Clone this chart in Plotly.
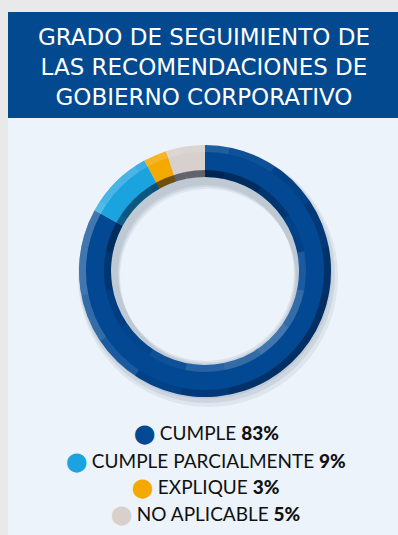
import plotly.graph_objects as go

# Data
categories = ["CUMPLE", "CUMPLE PARCIALMENTE", "EXPLIQUE", "NO APLICABLE"]
values = [83, 9, 3, 5]
colors = ["#024893", "#1ba3e0", "#f4a900", "#d7d0cc"]
title_lines = ["GRADO DE SEGUIMIENTO DE", "LAS RECOMENDACIONES DE", "GOBIERNO CORPORATIVO"]

W, H = 398, 535
CX, CY = 205, 271          # ring centre (px)
R_OUT, R_IN = 126, 94      # ring radii (px)


def py(px):
    """Convert a pixel offset from the top into paper y."""
    return 1 - px / H


def px_x(px):
    return px / W


def ring_domain(r, dx=0, dy=0):
    return dict(x=[px_x(CX + dx - r), px_x(CX + dx + r)],
                y=[py(CY + dy + r), py(CY + dy - r)])


# Bevel shading: 16 sectors clockwise from 12 o'clock (negative = dark, positive = light)
inner_bevel = [-0.55, -0.45, -0.3, -0.1, 0.1, 0.2, 0.25, 0.2,
               0.15, 0.05, -0.05, -0.15, -0.3, -0.45, -0.5, -0.55]
outer_bevel = [0.12, 0.05, -0.1, -0.25, -0.35, -0.4, -0.4, -0.35,
               -0.25, -0.1, 0.1, 0.2, 0.25, 0.25, 0.2, 0.15]


def shade(a):
    return f"rgba(255,255,255,{a:.2f})" if a > 0 else f"rgba(0,10,30,{-a:.2f})"


fig = go.Figure()

# Soft drop shadows behind the donut
for off, alpha, grow in [(6, 0.10, 4), (4, 0.12, 2), (2, 0.12, 0)]:
    r = R_OUT + grow
    fig.add_trace(go.Pie(
        values=[1], marker=dict(colors=[f"rgba(90,105,130,{alpha})"], line=dict(width=0)),
        hole=(R_IN - 6) / r, sort=False, textinfo="none", hoverinfo="skip", showlegend=False,
        domain=ring_domain(r, dx=off * 0.5, dy=off),
    ))

# Main donut
fig.add_trace(go.Pie(
    labels=categories, values=values, marker=dict(colors=colors, line=dict(width=0)),
    hole=R_IN / R_OUT, sort=False, direction="clockwise", rotation=0,
    textinfo="none", showlegend=False,
    domain=ring_domain(R_OUT),
))

# Inner and outer bevel bands
for r_o, r_i, bevel in [(R_IN + 7, R_IN, inner_bevel), (R_OUT, R_OUT - 7, outer_bevel)]:
    fig.add_trace(go.Pie(
        values=[1] * len(bevel),
        marker=dict(colors=[shade(a) for a in bevel], line=dict(width=0)),
        hole=r_i / r_o, sort=False, direction="clockwise", rotation=-360 / 32,
        textinfo="none", hoverinfo="skip", showlegend=False,
        domain=ring_domain(r_o),
    ))

shapes = [
    # light panel
    dict(type="rect", xref="paper", yref="paper", x0=px_x(8), x1=1, y0=0, y1=py(12),
         fillcolor="#ecf3fa", line=dict(width=0), layer="below"),
    # header band
    dict(type="rect", xref="paper", yref="paper", x0=px_x(8), x1=1, y0=py(118), y1=py(12),
         fillcolor="#03498f", line=dict(width=0), layer="below"),
]

annotations = [dict(
    text="<br>".join(title_lines), x=px_x(204), y=py(67), xref="paper", yref="paper",
    showarrow=False, xanchor="center", yanchor="middle", align="center",
    font=dict(family="DejaVu Sans", size=23, color="white"),
)]

legend_y = [433, 461, 487, 514]
for cat, val, col, yy in zip(categories, values, colors, legend_y):
    txt = (f"<span style='color:{col}'>⬤</span> "
           f"{cat} <span style='font-weight:900'>{val}%</span>")
    annotations.append(dict(
        text=txt, x=px_x(206), y=py(yy), xref="paper", yref="paper",
        showarrow=False, xanchor="center", yanchor="middle",
        font=dict(family="Lato", size=19, color="#111111"),
    ))

fig.update_layout(
    width=W, height=H, margin=dict(l=0, r=0, t=0, b=0),
    paper_bgcolor="#e9e9e9", plot_bgcolor="#e9e9e9",
    shapes=shapes, annotations=annotations,
)

fig.write_html("out.html")
